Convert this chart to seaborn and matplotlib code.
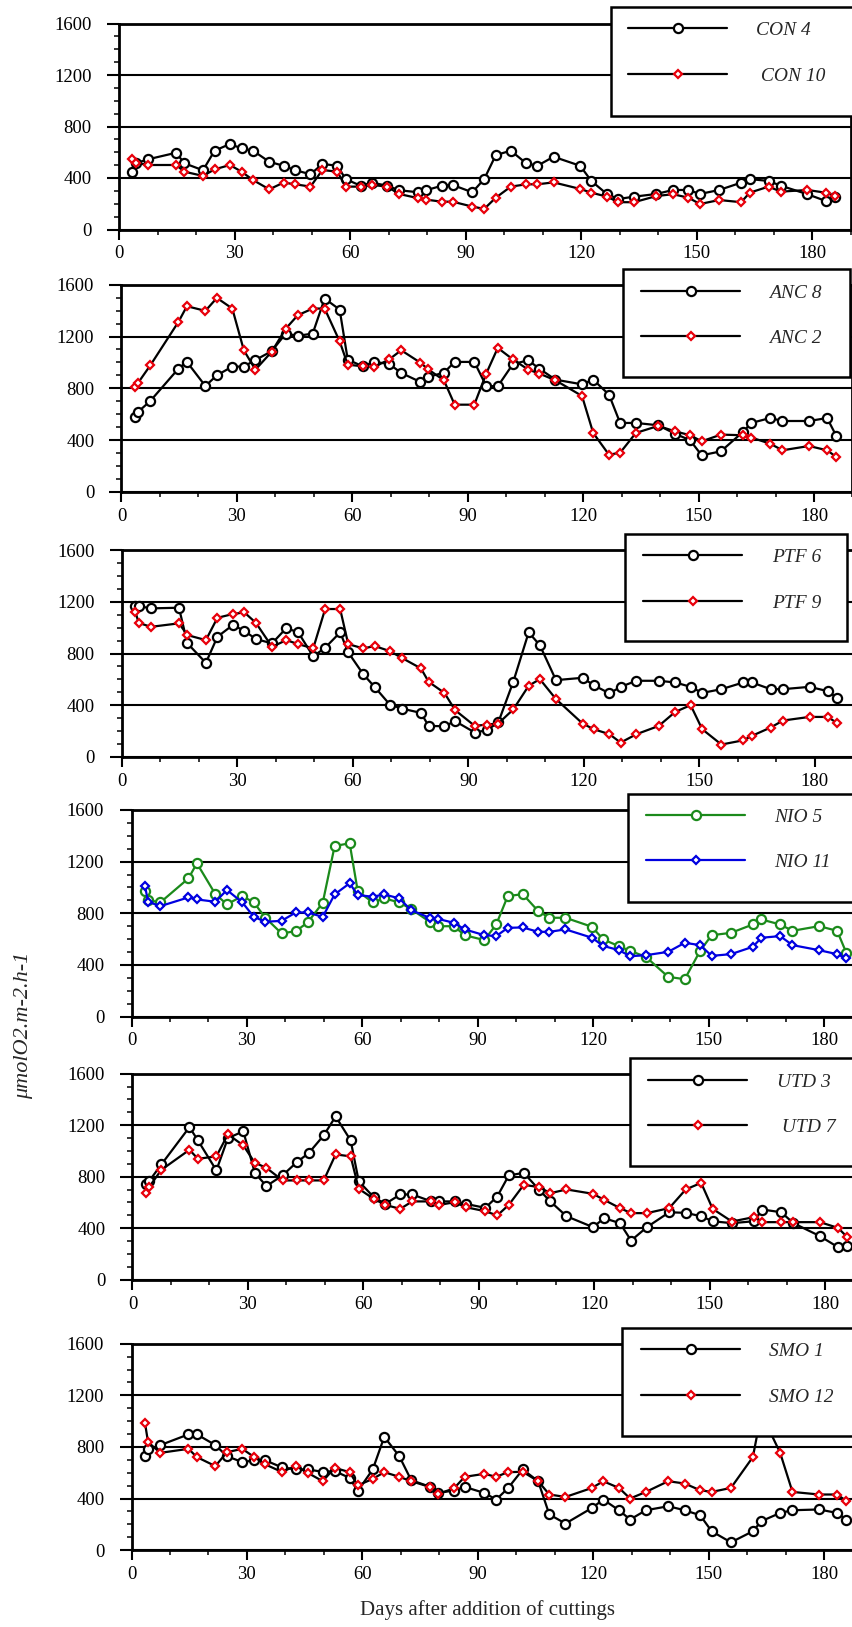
import numpy as np
import pandas as pd
import matplotlib
matplotlib.use("Agg")
import matplotlib.pyplot as plt
from matplotlib.patches import Rectangle
from matplotlib.ticker import MultipleLocator
import seaborn as sns

# Sampling days (days after addition of cuttings)
days = [3.5, 4.3, 7.5, 14.8, 17.0, 21.8, 24.8, 28.8, 31.8, 34.8, 39.0, 42.7, 45.8,
        49.7, 52.8, 56.7, 58.8, 62.7, 65.7, 69.6, 72.7, 77.7, 79.7, 83.8, 86.6,
        91.7, 94.8, 97.8, 101.7, 105.7, 108.6, 112.8, 119.7, 122.6, 126.7, 129.6,
        133.7, 139.5, 143.8, 147.8, 150.8, 155.8, 161.5, 163.7, 168.6, 171.8,
        178.7, 183.4, 185.8]

# Oxygen consumption, umol O2 m-2 h-1
con4 = [444, 514, 545, 596, 514, 460, 612, 664, 630, 612, 526, 495, 460, 429, 509,
        495, 392, 340, 364, 340, 305, 289, 305, 340, 346, 289, 392, 578, 612, 514,
        495, 565, 495, 377, 274, 237, 255, 276, 307, 307, 276, 307, 364, 392, 377,
        340, 274, 222, 255]
con10 = [547, 520, 501, 501, 449, 416, 467, 501, 449, 384, 312, 364, 351, 333, 462,
         449, 333, 333, 346, 333, 276, 243, 232, 216, 216, 178, 160, 247, 333, 351,
         351, 366, 315, 286, 255, 212, 212, 260, 274, 247, 198, 229, 212, 286, 333,
         294, 307, 286, 260]
anc8 = [579, 618, 703, 952, 1004, 818, 901, 968, 968, 1019, 1086, 1223, 1205, 1223,
        1493, 1408, 1022, 970, 1004, 988, 919, 849, 888, 921, 1004, 1004, 818, 816,
        986, 1017, 952, 867, 831, 867, 752, 533, 533, 515, 451, 399, 283, 314, 463,
        533, 571, 548, 548, 571, 432]
anc2 = [811, 842, 978, 1313, 1434, 1398, 1498, 1416, 1094, 944, 1081, 1261, 1364,
        1416, 1416, 1163, 983, 970, 965, 1024, 1094, 998, 947, 862, 674, 674, 914,
        1112, 1024, 945, 914, 862, 741, 456, 288, 303, 456, 510, 469, 438, 391, 443,
        438, 420, 373, 322, 355, 322, 270]
ptf6 = [1168, 1168, 1150, 1155, 879, 728, 930, 1021, 976, 912, 879, 997, 964, 778,
        845, 964, 809, 640, 540, 405, 374, 340, 239, 237, 276, 188, 206, 266, 581,
        964, 865, 594, 612, 555, 491, 542, 589, 589, 576, 542, 495, 524, 576, 576,
        524, 524, 542, 509, 457]
ptf9 = [1124, 1038, 1007, 1034, 943, 904, 1077, 1106, 1119, 1038, 852, 904, 873, 840,
        1145, 1145, 873, 840, 858, 819, 767, 685, 581, 495, 361, 239, 250, 258, 367,
        550, 602, 447, 258, 214, 175, 110, 175, 239, 348, 400, 214, 95, 128, 162, 227,
        281, 309, 309, 263]
nio5 = [972, 902, 884, 1070, 1187, 948, 869, 933, 884, 765, 644, 661, 729, 881, 1321,
        1342, 972, 884, 915, 884, 832, 730, 699, 700, 630, 592, 713, 933, 948, 817,
        765, 765, 695, 597, 545, 509, 462, 307, 289, 509, 630, 648, 713, 752, 713,
        664, 700, 664, 493]
nio11 = [1013, 889, 855, 923, 907, 889, 980, 884, 772, 734, 741, 806, 806, 772, 946,
         1032, 941, 928, 946, 915, 824, 762, 756, 726, 675, 630, 623, 687, 690, 656,
         656, 675, 610, 547, 514, 467, 475, 501, 571, 553, 470, 483, 540, 610, 623,
         553, 514, 483, 450]
utd3 = [744, 765, 895, 1185, 1082, 849, 1100, 1152, 830, 727, 810, 913, 983, 1121,
        1268, 1082, 765, 641, 589, 662, 662, 608, 608, 608, 589, 558, 646, 810, 830,
        698, 608, 493, 408, 478, 439, 304, 408, 524, 519, 493, 454, 439, 454, 545,
        524, 439, 338, 252, 258]
utd7 = [672, 719, 853, 1009, 939, 958, 1129, 1043, 908, 869, 771, 771, 771, 771, 973,
        958, 706, 628, 581, 550, 608, 608, 581, 602, 563, 532, 499, 581, 737, 719,
        672, 701, 667, 620, 556, 517, 517, 556, 701, 752, 550, 452, 486, 447, 447,
        447, 447, 402, 330]
smo1 = [728, 780, 814, 897, 897, 814, 728, 682, 695, 695, 643, 625, 625, 607, 612,
        560, 457, 625, 878, 728, 542, 490, 443, 462, 490, 443, 392, 478, 625, 534,
        276, 206, 327, 392, 309, 237, 309, 340, 309, 270, 146, 60, 146, 224, 288, 309,
        315, 288, 237]
smo12 = [987, 837, 754, 785, 721, 651, 759, 785, 723, 664, 607, 651, 599, 534, 638,
         604, 501, 552, 604, 568, 534, 488, 436, 478, 568, 591, 568, 604, 607, 534,
         431, 412, 482, 534, 482, 400, 451, 534, 516, 464, 451, 482, 721, 1060, 754,
         451, 431, 431, 381]

x_ticks = [0, 30, 60, 90, 120, 150, 180]
y_ticks = [0, 400, 800, 1200, 1600]
x_label = "Days after addition of cuttings"
y_label = "\u03bcmolO2.m-2.h-1"

RED = "#e8000b"
GREEN = "#1b8a1b"
BLUE = "#0000e0"

# (label, values, marker colour, line colour) for the two series of each panel
panels = [
    (("CON 4", con4, "black", "black"), (" CON 10", con10, RED, "black")),
    (("ANC 8", anc8, "black", "black"), ("ANC 2", anc2, RED, "black")),
    (("PTF 6", ptf6, "black", "black"), ("PTF 9", ptf9, RED, "black")),
    (("NIO 5", nio5, GREEN, GREEN), ("NIO 11", nio11, BLUE, BLUE)),
    (("UTD 3", utd3, "black", "black"), (" UTD 7", utd7, RED, "black")),
    (("SMO 1", smo1, "black", "black"), ("SMO 12", smo12, RED, "black")),
]

W, H = 853, 1627
# axes boxes in pixels: left, top, width, height
boxes = [
    (119.0, 23.5, 732.0, 206.0),
    (121.5, 284.7, 731.0, 207.3),
    (122.0, 550.3, 731.0, 206.5),
    (131.5, 810.0, 731.0, 206.5),
    (132.5, 1073.7, 731.0, 206.0),
    (131.5, 1343.7, 731.0, 206.4),
]
# legend frames in pixels: left, top, right, bottom
legend_frames = [
    (610.7, 6.7, 862.0, 115.7),
    (622.7, 269.0, 850.0, 377.3),
    (625.0, 533.7, 846.7, 641.0),
    (627.7, 794.0, 862.0, 901.7),
    (630.0, 1058.0, 862.0, 1166.0),
    (622.3, 1327.7, 862.0, 1436.0),
]
# legend entry anchor: start of the handle line, centre of the first row
legend_rows = [
    (628.0, 32.3), (641.0, 294.7), (643.3, 559.3),
    (646.0, 819.0), (648.3, 1083.7), (641.0, 1353.3),
]

LEG_FS = 14
PAD = 0.95
px_per_fs = LEG_FS * 100 / 72

sns.set_style("ticks")
plt.rcParams["font.family"] = ["Liberation Serif", "DejaVu Serif"]

fig = plt.figure(figsize=(W / 100, H / 100), dpi=100)

for (sa, sb), (l, t, w, h), frame, (hx, ry) in zip(panels, boxes, legend_frames,
                                                    legend_rows):
    ax = fig.add_axes([l / W, 1 - (t + h) / H, w / W, h / H])
    for name, vals, mcol, lcol, mk, ms in [
        (sa[0], sa[1], sa[2], sa[3], "o", 6.6),
        (sb[0], sb[1], sb[2], sb[3], "D", 4.0),
    ]:
        df = pd.DataFrame({"day": days, "rate": vals})
        sns.lineplot(data=df, x="day", y="rate", ax=ax, color=lcol, lw=1.6,
                     marker=mk, markersize=ms, markerfacecolor="white",
                     markeredgecolor=mcol, markeredgewidth=1.6,
                     estimator=None, sort=False, label=name, zorder=3)
    ax.set_xlim(0, 190)
    ax.set_ylim(0, 1600)
    ax.set_xticks(x_ticks)
    ax.set_yticks(y_ticks)
    ax.xaxis.set_minor_locator(MultipleLocator(10))
    ax.yaxis.set_minor_locator(MultipleLocator(100))
    ax.set_xlabel("")
    ax.set_ylabel("")
    ax.grid(False)
    ax.yaxis.grid(True, which="major", color="black", lw=1.5)
    ax.set_axisbelow(True)
    for s in ax.spines.values():
        s.set_visible(True)
        s.set_linewidth(2.0)
        s.set_color("black")
    ax.tick_params(axis="y", which="major", direction="out", length=8.6, width=1.5,
                   pad=11, labelsize=13.5, colors="black")
    ax.tick_params(axis="y", which="minor", direction="out", length=3.8, width=1.3)
    ax.tick_params(axis="x", which="major", direction="out", length=7.5, width=1.5,
                   pad=4, labelsize=13.5, colors="black")
    ax.tick_params(axis="x", which="minor", direction="out", length=3.8, width=1.3)

    handles, labels = ax.get_legend_handles_labels()
    if ax.get_legend() is not None:
        ax.get_legend().remove()

    # legend frame, laid over the plot area (reaches past the right edge)
    fl, ft, fr, fb = frame
    fig.add_artist(Rectangle((fl / W, 1 - fb / H), (fr - fl) / W, (fb - ft) / H,
                             transform=fig.transFigure, facecolor="white",
                             edgecolor="black", lw=1.8, zorder=4))
    # entries: the legend box top sits one padding plus half a row above row 1
    top = ry - PAD * px_per_fs - 10.8
    left = hx - PAD * px_per_fs
    fig.legend(handles, labels, loc="upper left",
               bbox_to_anchor=(left / W, 1 - top / H),
               bbox_transform=fig.transFigure, borderaxespad=0, frameon=False,
               prop={"family": "Liberation Serif", "style": "italic", "size": LEG_FS},
               handlelength=5.1, handletextpad=1.5, labelspacing=1.43,
               borderpad=PAD, numpoints=1).set_zorder(5)

fig.text(24 / W, 1 - 1025 / H, y_label, rotation=90, ha="center", va="center",
         fontsize=16, style="italic", family="Liberation Serif")
fig.text(488 / W, 1 - 1610 / H, x_label, ha="center", va="center",
         fontsize=15, family="Liberation Serif")

fig.savefig("out.png", dpi=100)
